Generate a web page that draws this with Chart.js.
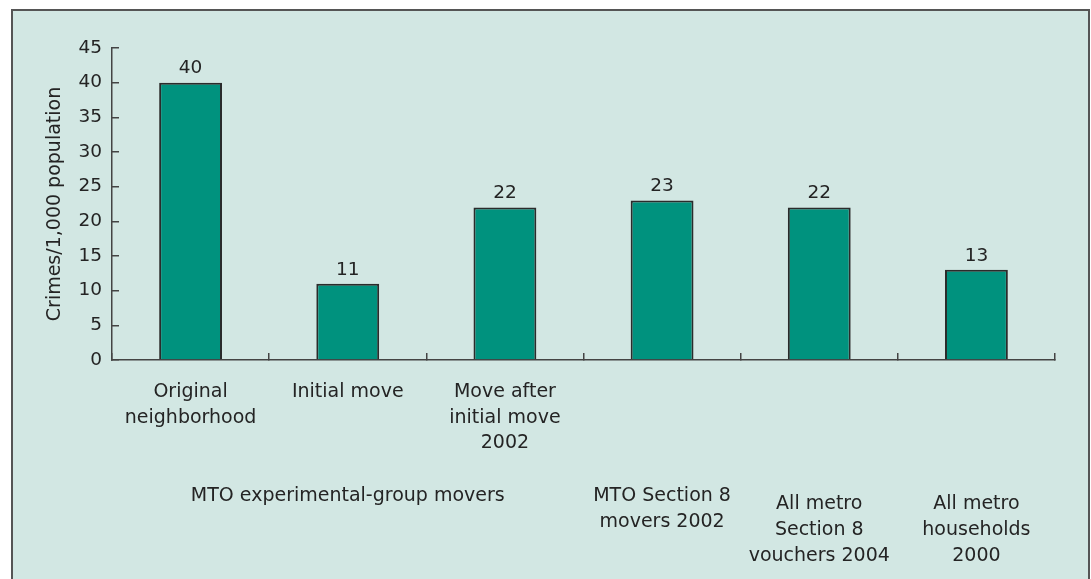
<!DOCTYPE html>
<html>
<head>
<meta charset="utf-8">
<script src="https://cdn.jsdelivr.net/npm/chart.js@4"></script>
<style>
  html, body { margin: 0; padding: 0; background: #fff; overflow: hidden; }
  #frame {
    position: absolute; left: 11px; top: 9px; width: 1075px; height: 600px;
    border: 2px solid #555; background: #d2e7e3;
  }
  #myChart { position: absolute; left: 0; top: 0; }
</style>
</head>
<body>
<div id="frame"></div>
<canvas id="myChart" width="1091" height="579"></canvas>
<script>
// Category labels (one array per bar, multi-line)
const categories = [
    ['Original', 'neighborhood'],
    ['Initial move'],
    ['Move after', 'initial move', '2002'],
    '',
    '',
    ''
];
// Crimes per 1,000 population
const crimeRates = [40, 11, 22, 23, 22, 13];
const yTicks = [0, 5, 10, 15, 20, 25, 30, 35, 40, 45];

// Second row of labels, grouped under the bars
const groupLabels = [
    ['MTO experimental-group movers'],
    ['MTO Section 8', 'movers 2002'],
    ['All metro', 'Section 8', 'vouchers 2004'],
    ['All metro', 'households', '2000']
];
const groupCenters = [1, 3, 4, 5]; // category index each group sits under

const textColor = '#242424';
const fontFamily = '"DejaVu Sans", sans-serif';

// Value labels on top of bars + group labels under the axis
const extraText = {
    id: 'extraText',
    afterDatasetsDraw(chart) {
        const ctx = chart.ctx;
        const meta = chart.getDatasetMeta(0);
        ctx.save();
        ctx.fillStyle = textColor;
        ctx.font = '18.5px ' + fontFamily;
        ctx.textAlign = 'center';
        ctx.textBaseline = 'middle';
        meta.data.forEach((bar, i) => {
            ctx.fillText(String(crimeRates[i]), bar.x, bar.y - 14);
        });

        // group labels
        const xScale = chart.scales.x;
        ctx.font = '19px ' + fontFamily;
        groupLabels.forEach((lines, g) => {
            const x = xScale.getPixelForValue(groupCenters[g]);
            const y0 = lines.length > 2 ? 504 : 496;
            lines.forEach((line, k) => {
                ctx.fillText(line, x, y0 + k * 26);
            });
        });
        ctx.restore();
    }
};

const ctx = document.getElementById('myChart');
new Chart(ctx, {
    type: 'bar',
    data: {
        labels: categories,
        datasets: [{
            data: crimeRates,
            backgroundColor: '#00927e',
            borderColor: '#2b2b2b',
            borderWidth: 2,
            categoryPercentage: 1.0,
            barPercentage: 0.4
        }]
    },
    options: {
        responsive: false,
        animation: false,
        layout: { padding: { left: 0, top: 48, right: 36, bottom: 0 } },
        plugins: {
            legend: { display: false },
            tooltip: { enabled: false }
        },
        scales: {
            x: {
                afterFit: s => { s.height = 219; },
                grid: {
                    offset: true,
                    drawOnChartArea: false,
                    drawTicks: true,
                    tickLength: -7,
                    color: '#444',
                    lineWidth: 1.5
                },
                border: { color: '#444', width: 1.5 },
                ticks: {
                    color: textColor,
                    font: { family: fontFamily, size: 19, lineHeight: 1.32 },
                    padding: 27,
                    maxRotation: 0,
                    autoSkip: false
                }
            },
            y: {
                min: 0,
                max: 45,
                afterFit: s => { s.width = 112; },
                afterBuildTicks: s => { s.ticks = yTicks.map(v => ({ value: v })); },
                grid: {
                    drawOnChartArea: false,
                    drawTicks: true,
                    tickLength: -7,
                    color: '#444',
                    lineWidth: 1.5
                },
                border: { color: '#444', width: 1.5 },
                ticks: {
                    color: textColor,
                    font: { family: fontFamily, size: 18.5 },
                    padding: 17
                },
                title: {
                    display: true,
                    text: 'Crimes/1,000 population',
                    color: textColor,
                    font: { family: fontFamily, size: 19 },
                    padding: { top: 44, bottom: 0 }
                }
            }
        }
    },
    plugins: [extraText]
});
</script>
</body>
</html>
